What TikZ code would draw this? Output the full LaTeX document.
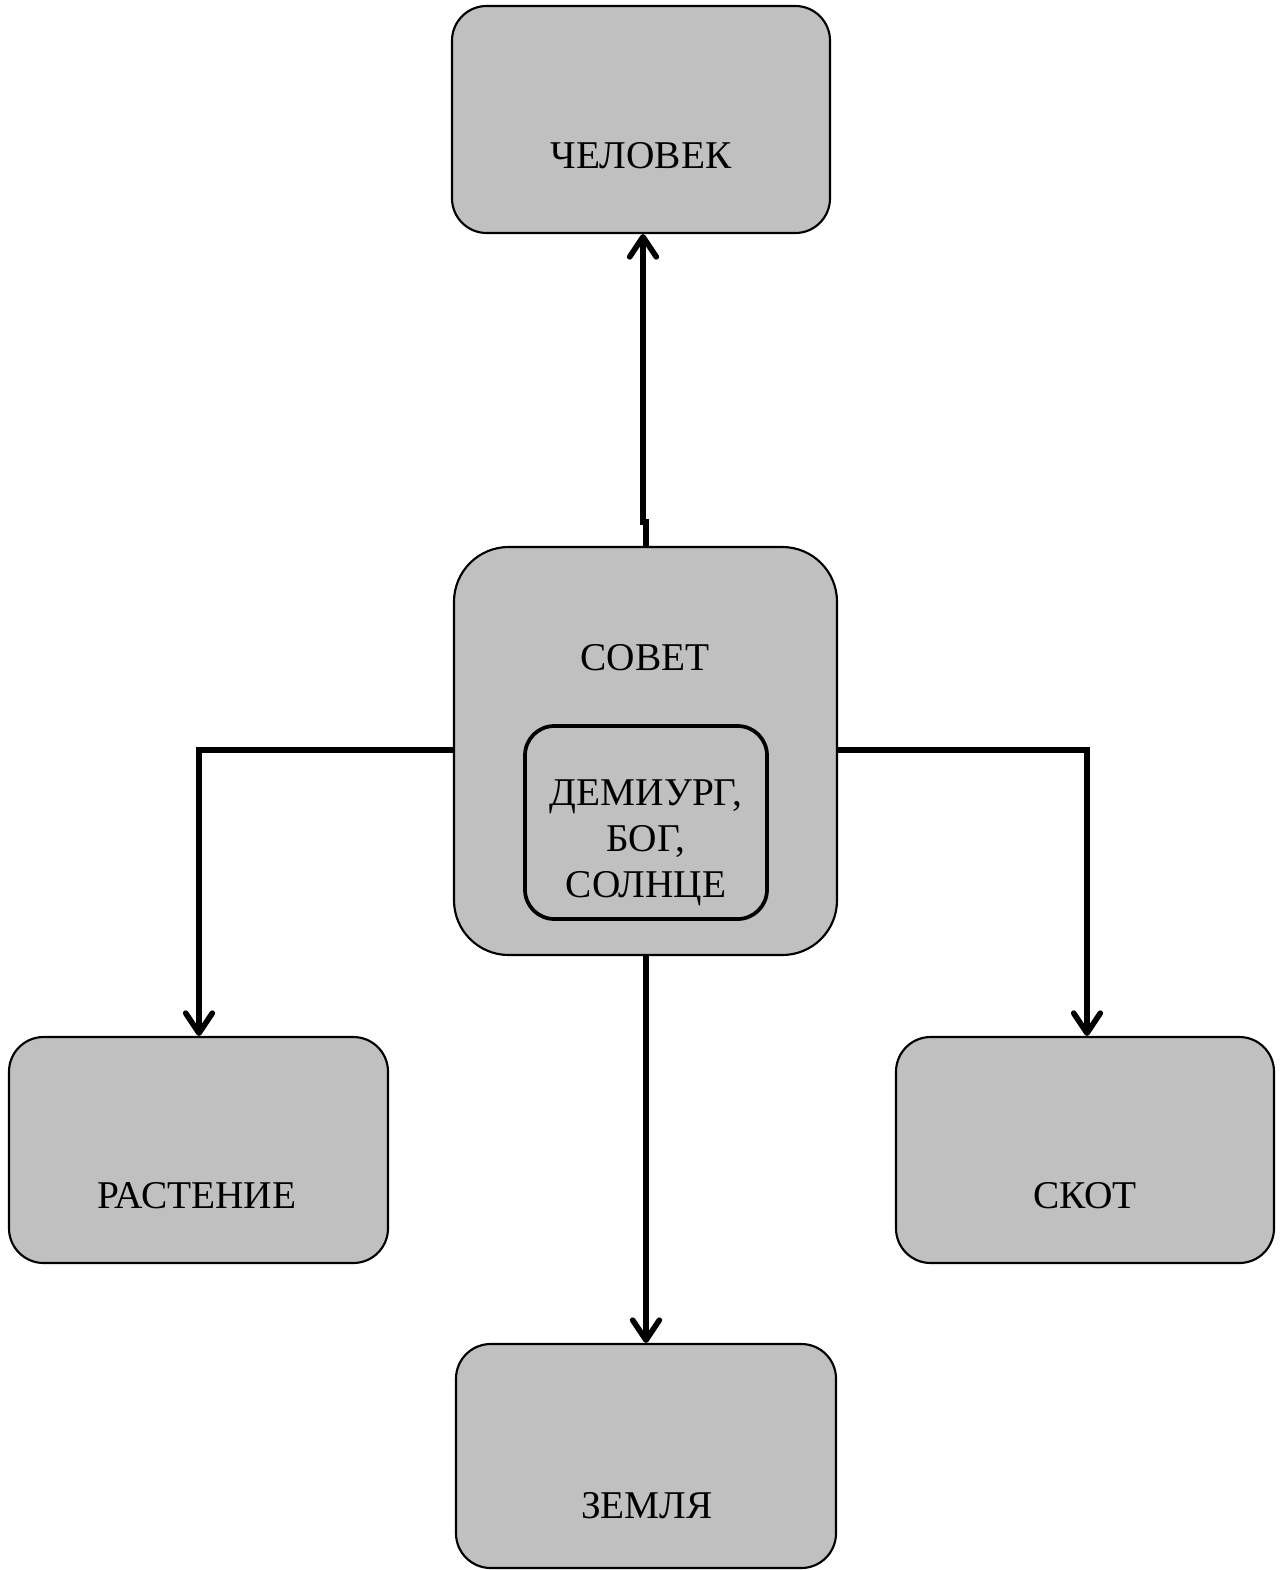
\documentclass[tikz,border=0pt]{standalone}
\usepackage{fontspec}
\setmainfont{Liberation Serif}
\usetikzlibrary{arrows.meta}
\begin{document}
\begin{tikzpicture}[x=0.75pt,y=-0.75pt,
  box/.style={draw=black,line width=1.6pt,fill=boxgray,rounded corners=26pt,inner sep=0pt},
  lbl/.style={font=\fontsize{29.5pt}{34.5pt}\selectfont,inner sep=0pt},
  conn/.style={line width=4.2pt,-{Straight Barb[length=15pt,width=20pt,line cap=round,line join=round]}}]
\definecolor{boxgray}{HTML}{C0C0C0}
\useasboundingbox (0,0) rectangle (1282,1570);
\node[box,minimum width=283.5pt,minimum height=170.25pt] (chel) at (641,119.5) {};
\node[box,minimum width=287.25pt,minimum height=306pt,rounded corners=41pt] (sovet) at (645.5,751) {};
\node[box,minimum width=181.5pt,minimum height=144.75pt,rounded corners=22pt,line width=2.8pt] (inner) at (646,822.5) {};
\node[box,minimum width=284.25pt,minimum height=169.5pt] (rast) at (198.5,1150) {};
\node[box,minimum width=283.5pt,minimum height=169.5pt] (skot) at (1085,1150) {};
\node[box,minimum width=285pt,minimum height=168pt] (zem) at (646,1456) {};
\node[lbl,anchor=base] (tchel) at (641,168) {ЧЕЛОВЕК};
\node[lbl,anchor=base] (tsovet) at (645,670) {СОВЕТ};
\node[lbl,align=center,anchor=center] (tinner) at (646,843) {ДЕМИУРГ,\\БОГ,\\СОЛНЦЕ};
\node[lbl,anchor=base] (trast) at (197,1208) {РАСТЕНИЕ};
\node[lbl,anchor=base] (tskot) at (1085,1208) {СКОТ};
\node[lbl,anchor=base] (tzem) at (647,1518) {ЗЕМЛЯ};
\coordinate (jogA) at (646,522);
\coordinate (jogB) at (643,522);
\draw[conn] (sovet.north -| jogA) -- (jogA) -- (jogB) -- (chel.south -| jogB);
\draw[conn] (sovet.west |- 0,750) -| (rast.north -| 199,0);
\draw[conn] (sovet.east |- 0,750) -| (skot.north -| 1087,0);
\draw[conn] (sovet.south -| 646,0) -- (zem.north -| 646,0);
\end{tikzpicture}
\end{document}
